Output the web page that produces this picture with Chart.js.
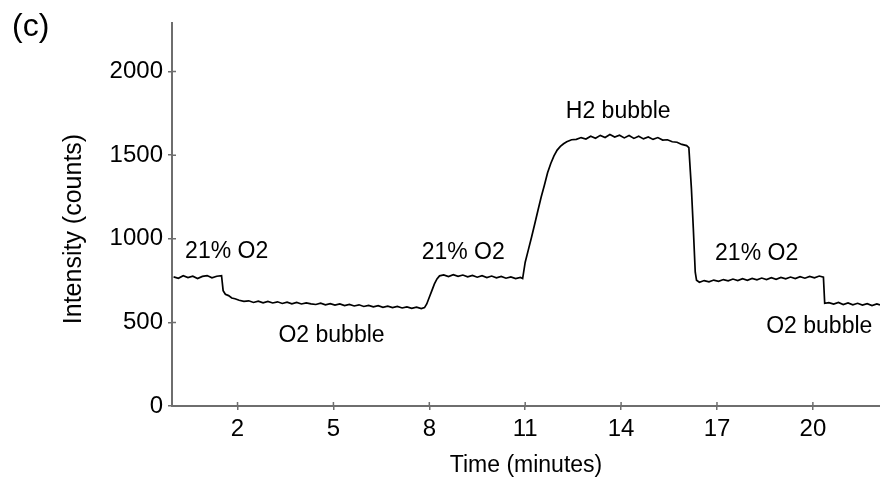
<!DOCTYPE html>
<html>
<head>
<meta charset="utf-8">
<title>Intensity vs time</title>
<script src="https://cdn.jsdelivr.net/npm/chart.js@4.4.1/dist/chart.umd.min.js"></script>
<style>
  html, body { margin: 0; padding: 0; background: #fff; }
</style>
</head>
<body>
<canvas id="graph" width="880" height="481"></canvas>
<script>
// time in minutes and the detector counts
const timeMin = [
  0.00, 0.15, 0.30, 0.45, 0.60, 0.75, 0.90, 1.05, 1.20, 1.35, 1.50,
  1.55, 1.62, 1.72, 1.82, 1.92, 2.05, 2.20, 2.35, 2.50, 2.65, 2.80, 2.95,
  3.10, 3.25, 3.40, 3.55, 3.70, 3.85, 4.00, 4.15, 4.30, 4.45, 4.60, 4.75,
  4.90, 5.05, 5.20, 5.35, 5.50, 5.65, 5.80, 5.95, 6.10, 6.25, 6.40, 6.55,
  6.70, 6.85, 7.00, 7.15, 7.30, 7.45, 7.60, 7.75, 7.85,
  7.92, 8.00, 8.08, 8.16, 8.24, 8.32,
  8.45, 8.60, 8.75, 8.90, 9.05, 9.20, 9.35, 9.50, 9.65, 9.80, 9.95, 10.10,
  10.25, 10.40, 10.55, 10.70, 10.85, 10.92,
  11.00, 11.10, 11.20, 11.30, 11.40, 11.50, 11.60, 11.70, 11.80, 11.90,
  12.00, 12.10, 12.20, 12.30, 12.45, 12.60, 12.75, 12.90, 13.05, 13.20,
  13.35, 13.50, 13.65, 13.80, 13.95, 14.10, 14.25, 14.40, 14.55, 14.70,
  14.85, 15.00, 15.15, 15.30, 15.45, 15.60, 15.75, 15.90, 16.05, 16.12,
  16.20, 16.26, 16.32, 16.36,
  16.45, 16.60, 16.75, 16.90, 17.05, 17.20, 17.35, 17.50, 17.65, 17.80,
  17.95, 18.10, 18.25, 18.40, 18.55, 18.70, 18.85, 19.00, 19.15, 19.30,
  19.45, 19.60, 19.75, 19.90, 20.05, 20.20, 20.33,
  20.37, 20.50, 20.65, 20.80, 20.95, 21.10, 21.25, 21.40, 21.55, 21.70,
  21.85, 22.00, 22.10
];
const intensity = [
  772, 764, 779, 768, 776, 762, 775, 780, 766, 776, 779,
  690, 668, 660, 646, 641, 632, 626, 629, 619, 627, 617, 625,
  616, 623, 613, 621, 611, 619, 610, 617, 611, 607, 615, 605,
  612, 603, 610, 600, 607, 598, 605, 595, 602, 593, 600, 590,
  597, 588, 595, 586, 593, 584, 591, 582, 588,
  610, 650, 690, 730, 760, 778,
  784, 774, 785, 775, 783, 772, 781, 770, 779, 768, 777, 766,
  775, 764, 772, 762, 769, 762,
  860, 935, 1010, 1090, 1170, 1250, 1320, 1395, 1450, 1495,
  1530, 1552, 1568, 1580, 1592, 1594, 1605, 1596, 1613, 1601,
  1618, 1605, 1623, 1608, 1619, 1603, 1617, 1600, 1613, 1597,
  1609, 1594, 1605, 1590, 1592, 1580, 1577, 1564, 1557, 1545,
  1300, 1060, 800, 752,
  740, 750, 742, 753, 745, 756, 748, 759, 750, 761,
  752, 763, 754, 765, 756, 767, 758, 769, 760, 771,
  762, 773, 764, 775, 766, 777, 770,
  614, 618, 609, 619, 607, 616, 605, 614, 603, 612,
  601, 610, 604
];
const xTicks = [2, 5, 8, 11, 14, 17, 20];
const yTicks = [0, 500, 1000, 1500, 2000];

// text written on the plot, anchored at (time, counts) of its baseline start
const notes = [
  { text: '21% O2', t: 0.36, v: 883 },
  { text: 'O2 bubble', t: 3.28, v: 383 },
  { text: '21% O2', t: 7.76, v: 877 },
  { text: 'H2 bubble', t: 12.27, v: 1721 },
  { text: '21% O2', t: 16.94, v: 872 },
  { text: 'O2 bubble', t: 18.54, v: 434 }
];
const xTitle = 'Time (minutes)';
const yTitle = 'Intensity (counts)';
const panelTag = '(c)';

const face = '"Liberation Sans", Arial, sans-serif';
const ink = '#000';
const axisGrey = '#6e6e6e';

const textPlugin = {
  id: 'textPlugin',
  afterDraw(chart) {
    const ctx = chart.ctx;
    const x = chart.scales.x, y = chart.scales.y;
    const area = chart.chartArea;
    ctx.save();

    // inner half of the tick marks, so they cross the axis lines
    ctx.strokeStyle = axisGrey;
    ctx.lineWidth = 1.5;
    ctx.beginPath();
    xTicks.forEach(v => {
      const px = x.getPixelForValue(v);
      ctx.moveTo(px, area.bottom);
      ctx.lineTo(px, area.bottom - 4);
    });
    yTicks.forEach(v => {
      const py = y.getPixelForValue(v);
      ctx.moveTo(area.left, py);
      ctx.lineTo(area.left + 4, py);
    });
    ctx.stroke();

    ctx.fillStyle = ink;
    ctx.textAlign = 'left';
    ctx.textBaseline = 'alphabetic';
    ctx.font = '23px ' + face;
    notes.forEach(n => ctx.fillText(n.text, x.getPixelForValue(n.t), y.getPixelForValue(n.v)));

    ctx.font = '32px ' + face;
    ctx.fillText(panelTag, 12, 36);

    // axis titles
    ctx.textAlign = 'center';
    ctx.textBaseline = 'middle';
    ctx.font = '23px ' + face;
    ctx.fillText(xTitle, (area.left + area.right) / 2, 466);
    ctx.font = '25px ' + face;
    ctx.translate(74, 229);
    ctx.rotate(-Math.PI / 2);
    ctx.fillText(yTitle, 0, 0);
    ctx.restore();
  }
};

const pts = timeMin.map((t, i) => ({ x: t, y: intensity[i] }));

new Chart(document.getElementById('graph'), {
  type: 'line',
  data: {
    datasets: [{
      data: pts,
      borderColor: '#000',
      borderWidth: 1.7,
      pointRadius: 0,
      tension: 0,
      fill: false
    }]
  },
  options: {
    responsive: false,
    devicePixelRatio: 1,
    animation: false,
    layout: { padding: { top: 23, left: 0, right: 0, bottom: 0 } },
    plugins: { legend: { display: false }, tooltip: { enabled: false } },
    scales: {
      x: {
        type: 'linear',
        min: -0.05,
        max: 22.1,
        afterBuildTicks: s => { s.ticks = xTicks.map(v => ({ value: v })); },
        afterFit: s => { s.height = 75; },
        grid: { display: true, drawOnChartArea: false, drawTicks: true, tickLength: 4, color: axisGrey, lineWidth: 1.5 },
        border: { display: true, color: axisGrey, width: 2 },
        ticks: { color: ink, font: { family: face, size: 24 }, padding: 5, maxRotation: 0, autoSkip: false,
                 callback: v => String(v) }
      },
      y: {
        min: 0,
        max: 2290,
        afterBuildTicks: s => { s.ticks = yTicks.map(v => ({ value: v })); },
        afterFit: s => { s.width = 172; },
        grid: { display: true, drawOnChartArea: false, drawTicks: true, tickLength: 4, color: axisGrey, lineWidth: 1.5 },
        border: { display: true, color: axisGrey, width: 2 },
        ticks: { color: ink, font: { family: face, size: 24 }, padding: 5,
                 callback: v => String(v) }
      }
    }
  },
  plugins: [textPlugin]
});
</script>
</body>
</html>
